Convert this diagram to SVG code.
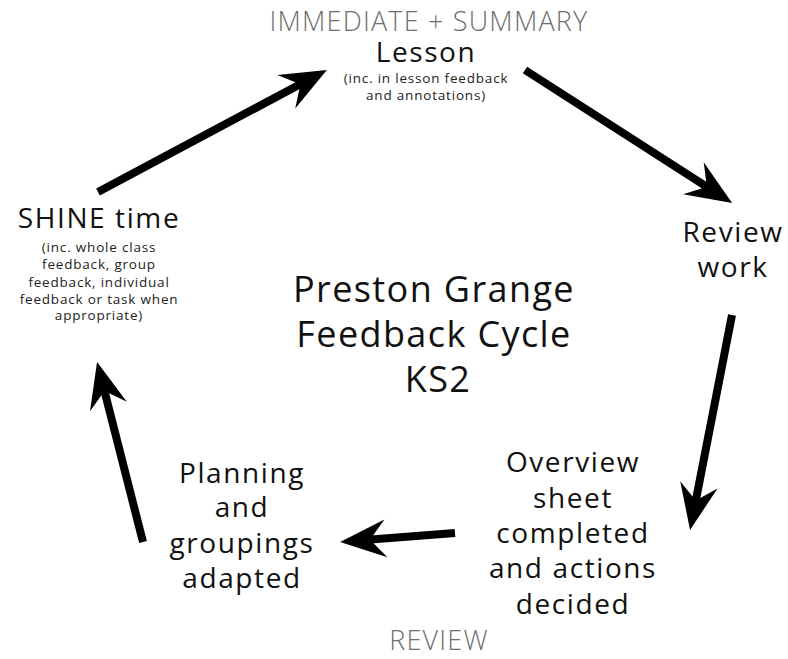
<svg xmlns="http://www.w3.org/2000/svg" width="788" height="659" viewBox="0 0 788 659">
<style>
text{font-family:"Open Sans","Noto Sans","Liberation Sans",sans-serif;text-anchor:middle;fill:#111}
.gray{fill:#6f6f6f;font-size:27px;letter-spacing:1.2px;font-weight:300}
.big{font-size:28px;letter-spacing:1.6px}
.small{font-size:13.5px;fill:#222;letter-spacing:0.8px}
.title{font-size:36px;letter-spacing:1.4px}
.arrow{stroke:#000;stroke-width:8;fill:none;marker-end:url(#head)}
</style>
<defs>
<marker id="head" markerUnits="userSpaceOnUse" viewBox="0 0 70 50" markerWidth="70" markerHeight="50" refX="52" refY="25" orient="auto">
<path d="M70,25 L24,6 L40,25 L24,44 Z" fill="#000"/>
</marker>
</defs>
<rect width="788" height="659" fill="#fff"/>
<g id="connectors">
<line class="arrow" x1="98" y1="192" x2="311" y2="78.5"/>
<line class="arrow" x1="525" y1="70" x2="717" y2="193.3"/>
<line class="arrow" x1="732" y1="315" x2="693.5" y2="512.3"/>
<line class="arrow" x1="455" y1="533" x2="358" y2="540.6"/>
<line class="arrow" x1="143" y1="542" x2="101.5" y2="379.4"/>
</g>
<g id="label-immediate"><text class="gray" x="429" y="31">IMMEDIATE + SUMMARY</text></g>
<g id="node-lesson">
<text class="big" x="426" y="62">Lesson</text>
<text class="small" x="426" y="83">(inc. in lesson feedback</text>
<text class="small" x="426" y="100">and annotations)</text>
</g>
<g id="node-review">
<text class="big" x="733" y="242">Review</text>
<text class="big" x="733" y="277">work</text>
</g>
<g id="node-overview">
<text class="big" x="573" y="472">Overview</text>
<text class="big" x="573" y="508">sheet</text>
<text class="big" x="573" y="543">completed</text>
<text class="big" x="573" y="578">and actions</text>
<text class="big" x="573" y="614">decided</text>
</g>
<g id="node-planning">
<text class="big" x="242" y="483">Planning</text>
<text class="big" x="242" y="517">and</text>
<text class="big" x="242" y="553">groupings</text>
<text class="big" x="242" y="588">adapted</text>
</g>
<g id="node-shine">
<text class="big" x="99" y="228">SHINE time</text>
<text class="small" x="99" y="252">(inc. whole class</text>
<text class="small" x="99" y="269">feedback, group</text>
<text class="small" x="99" y="287">feedback, individual</text>
<text class="small" x="99" y="304">feedback or task when</text>
<text class="small" x="99" y="320">appropriate)</text>
</g>
<g id="title">
<text class="title" x="434" y="302">Preston Grange</text>
<text class="title" x="434" y="347">Feedback Cycle</text>
<text class="title" x="438" y="392">KS2</text>
</g>
<g id="label-review"><text class="gray" x="439" y="650">REVIEW</text></g>
</svg>
